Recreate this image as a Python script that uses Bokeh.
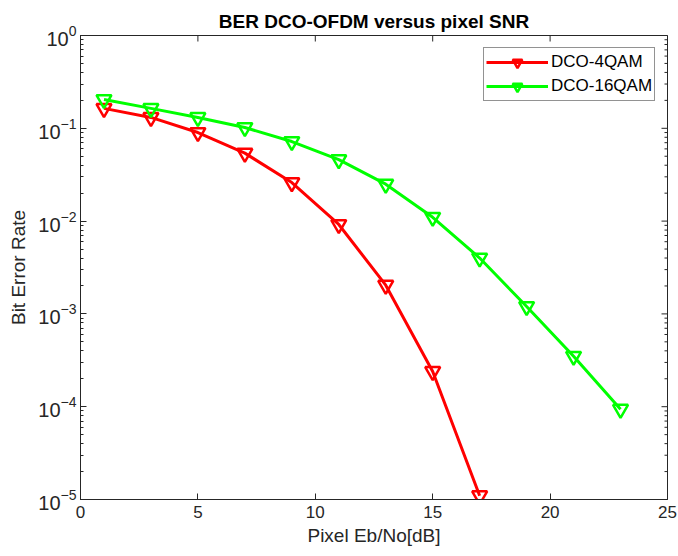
import numpy as np
from bokeh.plotting import figure
from bokeh.models import FixedTicker, LogTicker, Legend, LegendItem
from bokeh.embed import file_html
from bokeh.resources import INLINE

snr_4qam = [1, 3, 5, 7, 9, 11, 13, 15, 17]
ber_4qam = [0.164, 0.131, 0.090, 0.054, 0.026, 0.0092, 0.00204, 0.00024, 0.000011]
snr_16qam = [1, 3, 5, 7, 9, 11, 13, 15, 17, 19, 21, 23]
ber_16qam = [0.204, 0.164, 0.131, 0.102, 0.072, 0.046, 0.025, 0.011, 0.0040, 0.0012, 0.00035, 0.000094]
x_ticks = [0, 5, 10, 15, 20, 25]
y_decades = [1e-5, 1e-4, 1e-3, 1e-2, 1e-1, 1e0]

FONT = "Liberation Sans"
TXT = "#262626"
X0, X1 = 0, 25
Y0, Y1 = 1e-5, 1

p = figure(width=678, height=556, x_range=(X0, X1), y_range=(Y0, Y1),
           y_axis_type="log", output_backend="svg", toolbar_location=None,
           title="BER DCO-OFDM versus pixel SNR",
           min_border_left=80, min_border_right=11, min_border_top=35, min_border_bottom=57)

p.title.align = "center"
p.title.text_font = FONT
p.title.text_font_size = "19px"
p.title.text_font_style = "bold"
p.title.text_color = "black"
p.title.offset = 0
p.title.standoff = 8

p.grid.visible = False
p.outline_line_color = "#262626"
p.outline_line_width = 1

xa = p.xaxis[0]
xa.ticker = FixedTicker(ticks=x_ticks)
xa.axis_label = "Pixel Eb/No[dB]"
ya = p.yaxis[0]
ya.ticker = LogTicker(num_minor_ticks=10)
ya.axis_label = "Bit Error Rate"

for ax in (xa, ya):
    ax.axis_label_text_font = FONT
    ax.axis_label_text_font_size = "19px"
    ax.axis_label_text_font_style = "normal"
    ax.axis_label_text_color = TXT
    ax.major_label_text_font = FONT
    ax.major_label_text_font_size = "17px"
    ax.major_label_text_color = TXT
    ax.axis_line_color = "#262626"
    ax.major_tick_in = 6
    ax.major_tick_out = 0
    ax.minor_tick_in = 3
    ax.minor_tick_out = 0
    ax.major_tick_line_color = "#262626"
    ax.minor_tick_line_color = "#262626"
xa.minor_tick_line_color = None
xa.major_label_standoff = 6
xa.axis_label_standoff = 4
ya.major_label_text_font_size = "20px"
ya.major_label_standoff = 4
ya.axis_label_standoff = 6

# mirrored tick marks on top and right edges (MATLAB box style)
minor_y = [d * k for d in y_decades[:-1] for k in range(2, 10)]
p.scatter(x_ticks, [Y1] * len(x_ticks), marker="dash", angle=np.pi / 2, size=12,
          line_color="#262626", line_width=1)
p.scatter([X1] * len(y_decades), y_decades, marker="dash", size=12,
          line_color="#262626", line_width=1)
p.scatter([X1] * len(minor_y), minor_y, marker="dash", size=6,
          line_color="#262626", line_width=1)

r1 = p.line(snr_4qam, ber_4qam, line_color="#FF0000", line_width=3)
m1 = p.scatter(snr_4qam, ber_4qam, marker="inverted_triangle", size=15,
               line_color="#FF0000", line_width=2.5, fill_color=None)
r2 = p.line(snr_16qam, ber_16qam, line_color="#00FF00", line_width=3)
m2 = p.scatter(snr_16qam, ber_16qam, marker="inverted_triangle", size=15,
               line_color="#00FF00", line_width=2.5, fill_color=None)

legend = Legend(items=[LegendItem(label="DCO-4QAM", renderers=[r1, m1]),
                       LegendItem(label="DCO-16QAM", renderers=[r2, m2])],
                location=(403, 398))
legend.label_text_font = FONT
legend.label_text_font_size = "17px"
legend.label_text_color = "black"
legend.border_line_color = "#262626"
legend.border_line_width = 1
legend.glyph_width = 62
legend.glyph_height = 24
legend.spacing = 0
legend.padding = 2
legend.margin = 0
legend.label_standoff = 3
p.add_layout(legend, "center")

open("out.html", "w").write(file_html(p, INLINE))
